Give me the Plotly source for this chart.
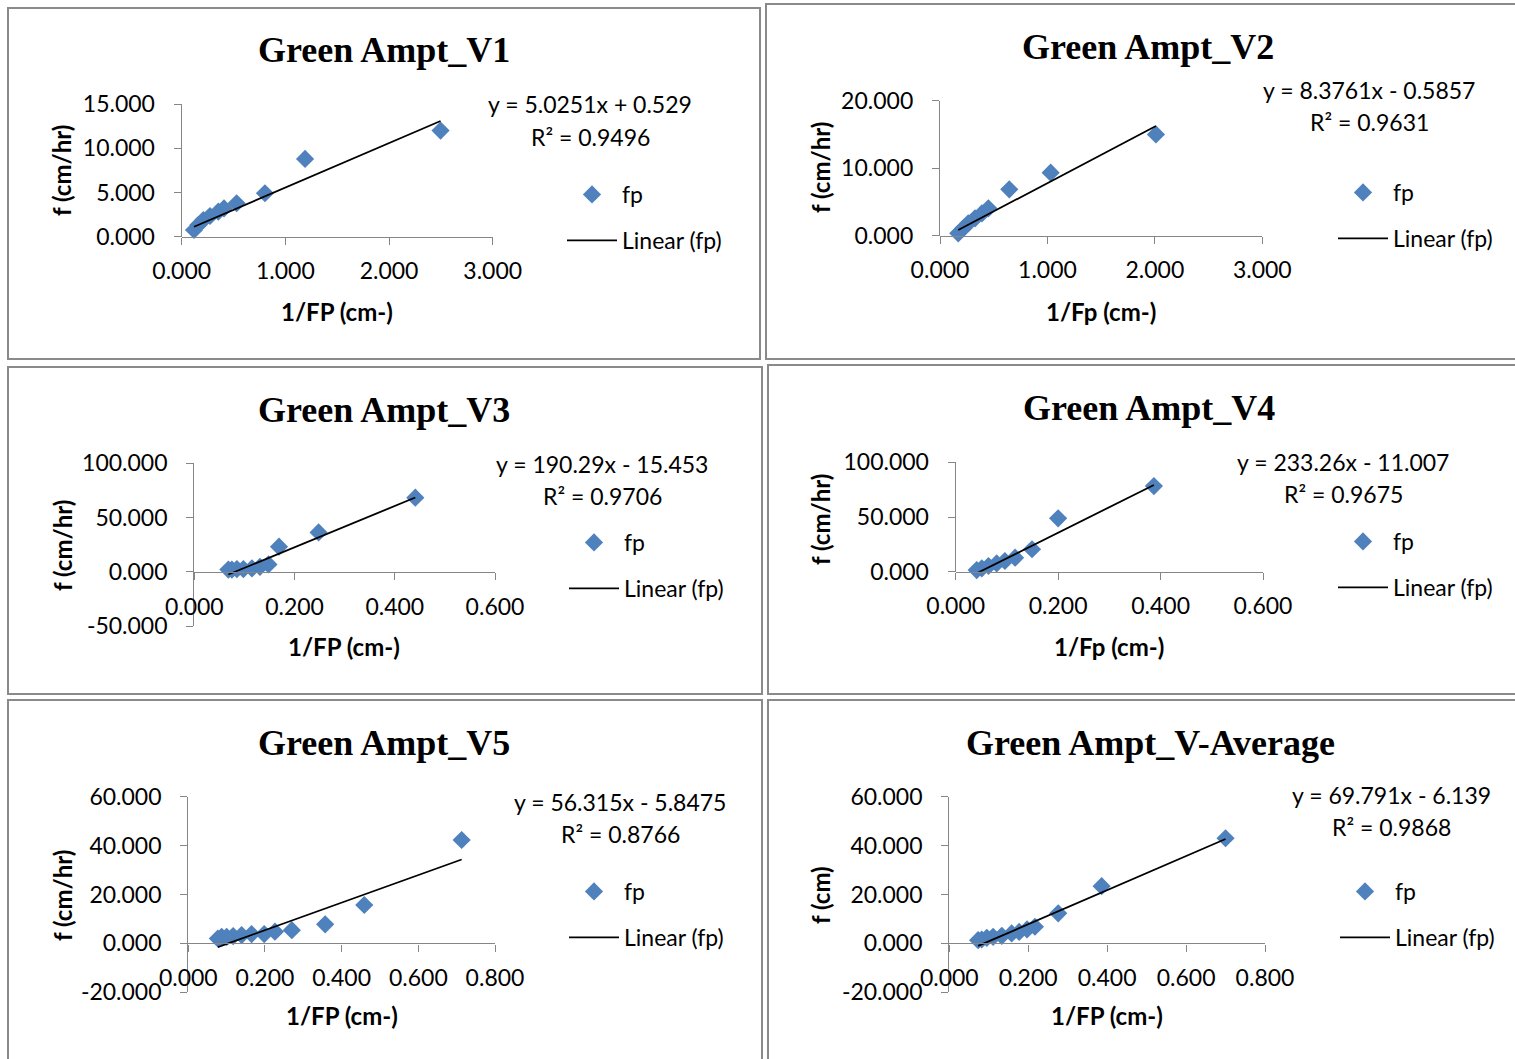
import plotly.graph_objects as go

# ---------------- data ----------------
titles = ["Green Ampt_V1", "Green Ampt_V2", "Green Ampt_V3",
          "Green Ampt_V4", "Green Ampt_V5", "Green Ampt_V-Average"]
x_titles = ["1/FP (cm-)", "1/Fp (cm-)", "1/FP (cm-)", "1/Fp (cm-)", "1/FP (cm-)", "1/FP (cm-)"]
y_titles = ["f (cm/hr)", "f (cm/hr)", "f (cm/hr)", "f (cm/hr)", "f (cm/hr)", "f (cm)"]

v1_x = [0.119, 0.160, 0.209, 0.273, 0.353, 0.408, 0.530, 0.803, 1.190, 2.497]
v1_y = [0.76, 1.32, 1.89, 2.34, 2.83, 3.20, 3.78, 4.91, 8.79, 12.0]
v2_x = [0.170, 0.217, 0.263, 0.326, 0.390, 0.450, 0.645, 1.030, 2.010]
v2_y = [0.35, 1.10, 1.84, 2.58, 3.30, 4.06, 6.87, 9.33, 15.0]
v3_x = [0.068, 0.075, 0.085, 0.098, 0.115, 0.131, 0.148, 0.169, 0.248, 0.441]
v3_y = [2.0, 2.0, 2.5, 2.5, 3.1, 4.6, 6.8, 23.1, 36.3, 68.3]
v4_x = [0.041, 0.051, 0.064, 0.080, 0.096, 0.116, 0.149, 0.200, 0.387]
v4_y = [1.5, 3.1, 5.2, 7.6, 9.8, 12.8, 20.5, 48.8, 78.3]
v5_x = [0.077, 0.087, 0.100, 0.117, 0.139, 0.165, 0.198, 0.226, 0.270, 0.357, 0.459, 0.713]
v5_y = [2.0, 2.7, 2.7, 3.0, 3.4, 3.8, 3.8, 4.8, 5.4, 7.8, 15.7, 42.3]
vavg_x = [0.073, 0.082, 0.095, 0.111, 0.133, 0.158, 0.177, 0.197, 0.217, 0.276, 0.386, 0.700]
vavg_y = [1.3, 1.6, 2.3, 2.7, 3.1, 4.1, 4.7, 5.7, 6.8, 12.3, 23.4, 43.0]

slopes = [5.0251, 8.3761, 190.29, 233.26, 56.315, 69.791]
intercepts = [0.529, -0.5857, -15.453, -11.007, -5.8475, -6.139]
equations = ["y = 5.0251x + 0.529", "y = 8.3761x - 0.5857", "y = 190.29x - 15.453",
             "y = 233.26x - 11.007", "y = 56.315x - 5.8475", "y = 69.791x - 6.139"]
r2_texts = ["R² = 0.9496", "R² = 0.9631", "R² = 0.9706", "R² = 0.9675", "R² = 0.8766", "R² = 0.9868"]

x_ticks_a = [0, 1, 2, 3]
x_ticks_a_lbl = ["0.000", "1.000", "2.000", "3.000"]
x_ticks_b = [0, 0.2, 0.4, 0.6]
x_ticks_b_lbl = ["0.000", "0.200", "0.400", "0.600"]
x_ticks_c = [0, 0.2, 0.4, 0.6, 0.8]
x_ticks_c_lbl = ["0.000", "0.200", "0.400", "0.600", "0.800"]
y_ticks_1 = [0, 5, 10, 15]
y_ticks_1_lbl = ["0.000", "5.000", "10.000", "15.000"]
y_ticks_2 = [0, 10, 20]
y_ticks_2_lbl = ["0.000", "10.000", "20.000"]
y_ticks_3 = [-50, 0, 50, 100]
y_ticks_3_lbl = ["-50.000", "0.000", "50.000", "100.000"]
y_ticks_4 = [0, 50, 100]
y_ticks_4_lbl = ["0.000", "50.000", "100.000"]
y_ticks_5 = [-20, 0, 20, 40, 60]
y_ticks_5_lbl = ["-20.000", "0.000", "20.000", "40.000", "60.000"]

xs = [v1_x, v2_x, v3_x, v4_x, v5_x, vavg_x]
ys = [v1_y, v2_y, v3_y, v4_y, v5_y, vavg_y]

# ---------------- geometry (pixels) ----------------
W, H = 1515, 1059
geom = [
    dict(xr=[0, 3], xp=[181.7, 492.7], yr=[0, 15], yp=[236.7, 104.0],
         xt=(x_ticks_a, x_ticks_a_lbl), yt=(y_ticks_1, y_ticks_1_lbl),
         title=(384, 50), eq=(590, 104), r2=(590, 137), leg=(562, 173),
         ytl=(62, 170), xtl=(337, 311), border=(8, 8, 760, 359)),
    dict(xr=[0, 3], xp=[940.0, 1262.3], yr=[0, 20], yp=[235.7, 100.7],
         xt=(x_ticks_a, x_ticks_a_lbl), yt=(y_ticks_2, y_ticks_2_lbl),
         title=(1148, 47), eq=(1369, 90), r2=(1369, 122), leg=(1333, 171),
         ytl=(820, 168), xtl=(1101, 311), border=(766, 4, 1530, 359)),
    dict(xr=[0, 0.6], xp=[194.3, 495.0], yr=[-50, 100], yp=[626.0, 463.3],
         xt=(x_ticks_b, x_ticks_b_lbl), yt=(y_ticks_3, y_ticks_3_lbl),
         title=(384, 410), eq=(602, 464), r2=(602, 496), leg=(564, 521),
         ytl=(62, 545), xtl=(344, 646), border=(8, 367, 762, 694)),
    dict(xr=[0, 0.6], xp=[955.7, 1263.0], yr=[0, 100], yp=[571.7, 462.3],
         xt=(x_ticks_b, x_ticks_b_lbl), yt=(y_ticks_4, y_ticks_4_lbl),
         title=(1149, 408), eq=(1343, 462), r2=(1343, 494), leg=(1333, 520),
         ytl=(820, 520), xtl=(1109, 646), border=(768, 365, 1530, 694)),
    dict(xr=[0, 0.8], xp=[188.3, 495.0], yr=[-20, 60], yp=[992.3, 796.7],
         xt=(x_ticks_c, x_ticks_c_lbl), yt=(y_ticks_5, y_ticks_5_lbl),
         title=(384, 743), eq=(620, 802), r2=(620, 834), leg=(564, 870),
         ytl=(62, 895), xtl=(342, 1015), border=(8, 700, 762, 1070)),
    dict(xr=[0, 0.8], xp=[949.3, 1265.0], yr=[-20, 60], yp=[992.3, 796.7],
         xt=(x_ticks_c, x_ticks_c_lbl), yt=(y_ticks_5, y_ticks_5_lbl),
         title=(1150, 743), eq=(1391, 795), r2=(1391, 827), leg=(1335, 870),
         ytl=(820, 895), xtl=(1107, 1015), border=(768, 700, 1530, 1070)),
]

def px_x(p):
    return p / W

def px_y(p):
    return 1 - p / H

BLUE = "#4F81BD"
AXC = "#868686"
TICKFONT = dict(family="Lato", size=23, color="black")
TXTFONT = dict(family="Lato", size=23, color="black")

fig = go.Figure()
shapes = []
annotations = []
layout_axes = {}

for i in range(6):
    g = geom[i]
    xa = "x" if i == 0 else f"x{i+1}"
    ya = "y" if i == 0 else f"y{i+1}"
    xkey = "xaxis" if i == 0 else f"xaxis{i+1}"
    ykey = "yaxis" if i == 0 else f"yaxis{i+1}"
    leg = "legend" if i == 0 else f"legend{i+1}"

    fig.add_trace(go.Scatter(
        x=xs[i], y=ys[i], mode="markers", name="fp",
        marker=dict(symbol="diamond", size=14, color=BLUE),
        xaxis=xa, yaxis=ya, legend=leg, legendgroup=f"fp{i}", cliponaxis=False))
    lx = [min(xs[i]), max(xs[i])]
    ly = [slopes[i] * v + intercepts[i] for v in lx]
    fig.add_trace(go.Scatter(
        x=lx, y=ly, mode="lines", name="Linear (fp)",
        line=dict(color="black", width=1.8),
        xaxis=xa, yaxis=ya, legend=leg, legendgroup=f"lin{i}", cliponaxis=False))

    ydom = [px_y(g["yp"][0]), px_y(g["yp"][1])]
    xdom = [px_x(g["xp"][0]), px_x(g["xp"][1])]
    ymin, ymax = g["yr"]
    zero_pos = ydom[0] + (0 - ymin) / (ymax - ymin) * (ydom[1] - ydom[0])

    layout_axes[xkey] = dict(
        domain=xdom, range=g["xr"], anchor="free", position=zero_pos,
        showline=True, linecolor=AXC, linewidth=1.3, ticks="outside", ticklen=7,
        tickcolor=AXC, tickwidth=1.3, tickvals=g["xt"][0], ticktext=g["xt"][1],
        tickfont=TICKFONT, showgrid=False, zeroline=False, ticklabelstandoff=7,
        fixedrange=True)
    layout_axes[ykey] = dict(
        domain=ydom, range=g["yr"], anchor=xa,
        showline=True, linecolor=AXC, linewidth=1.3, ticks="outside", ticklen=7,
        tickcolor=AXC, tickwidth=1.3, tickvals=g["yt"][0], ticktext=g["yt"][1],
        tickfont=TICKFONT, showgrid=False, zeroline=False, ticklabelstandoff=14,
        fixedrange=True)

    layout_axes[leg] = dict(
        x=px_x(g["leg"][0]), y=px_y(g["leg"][1]), xanchor="left", yanchor="top",
        font=TXTFONT, bgcolor="rgba(0,0,0,0)", traceorder="grouped",
        tracegroupgap=13, itemwidth=50, itemclick=False, itemdoubleclick=False)

    bx0, by0, bx1, by1 = g["border"]
    shapes.append(dict(type="rect", xref="paper", yref="paper",
                       x0=px_x(bx0), x1=px_x(bx1), y0=px_y(by1), y1=px_y(by0),
                       line=dict(color="#8a8a8a", width=2), fillcolor="rgba(0,0,0,0)"))

    annotations.append(dict(text=f"<b>{titles[i]}</b>", x=px_x(g["title"][0]), y=px_y(g["title"][1]),
                            xref="paper", yref="paper", showarrow=False, xanchor="center", yanchor="middle",
                            font=dict(family="Liberation Serif", size=36, color="black")))
    annotations.append(dict(text=equations[i], x=px_x(g["eq"][0]), y=px_y(g["eq"][1]),
                            xref="paper", yref="paper", showarrow=False, xanchor="center", yanchor="middle",
                            font=TXTFONT))
    annotations.append(dict(text=r2_texts[i], x=px_x(g["r2"][0]), y=px_y(g["r2"][1]),
                            xref="paper", yref="paper", showarrow=False, xanchor="center", yanchor="middle",
                            font=TXTFONT))
    annotations.append(dict(text=f"<b>{x_titles[i]}</b>", x=px_x(g["xtl"][0]), y=px_y(g["xtl"][1]),
                            xref="paper", yref="paper", showarrow=False, xanchor="center", yanchor="middle",
                            font=dict(family="Lato", size=24, color="black")))
    annotations.append(dict(text=f"<b>{y_titles[i]}</b>", x=px_x(g["ytl"][0]), y=px_y(g["ytl"][1]),
                            xref="paper", yref="paper", showarrow=False, xanchor="center", yanchor="middle",
                            textangle=-90, font=dict(family="Lato", size=24, color="black")))

fig.update_layout(
    width=W, height=H, margin=dict(l=0, r=0, t=0, b=0, autoexpand=False),
    paper_bgcolor="white", plot_bgcolor="rgba(0,0,0,0)",
    showlegend=True, shapes=shapes, annotations=annotations, **layout_axes)

fig.write_html("out.html", config={"displayModeBar": False},
               post_script="document.body.style.margin='0px';")
